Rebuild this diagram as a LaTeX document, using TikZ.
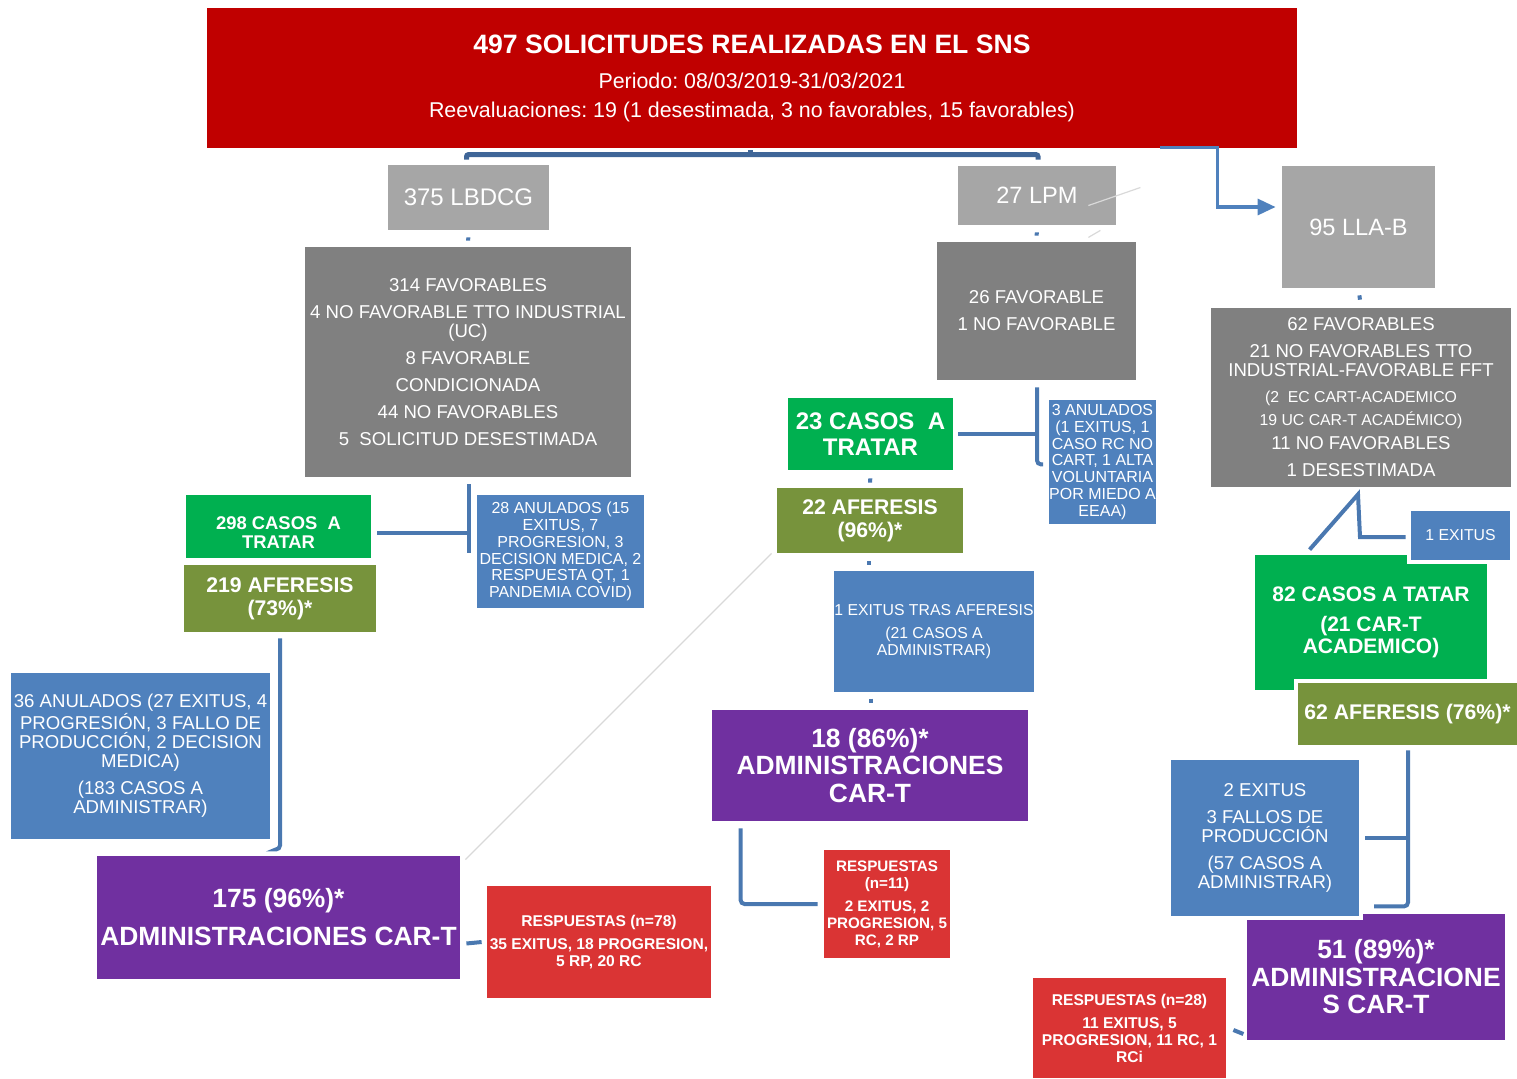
\documentclass[tikz,border=0pt]{standalone}
\usepackage{fontspec}
\setmainfont{Liberation Sans}
\usetikzlibrary{arrows.meta,calc}
\definecolor{tred}{HTML}{C00000}
\definecolor{lgray}{HTML}{A6A6A6}
\definecolor{dgray}{HTML}{808080}
\definecolor{tgreen}{HTML}{00B050}
\definecolor{tolive}{HTML}{77933C}
\definecolor{tblue}{HTML}{4F81BD}
\definecolor{purp}{HTML}{7030A0}
\definecolor{rbox}{HTML}{DA3434}
\definecolor{cblue}{HTML}{4A78B0}
\definecolor{cdark}{HTML}{3F6698}
\newcommand\fsz[2]{\fontsize{#1}{#2}\selectfont}
\newcommand\mybox[7]{\node[box,#6,minimum width={(#4-#2)*0.5pt},minimum height={(#5-#3)*0.5pt}] (#1) at ({(#2+#4)/2},{(#3+#5)/2}) {#7};}
\frenchspacing
\begin{document}
\begin{tikzpicture}[x=0.5pt,y=-0.5pt,
 box/.style={rectangle,inner sep=0pt,align=center,text=white},
 halo/.style={preaction={draw=white,line width=4pt}},
 conn/.style={draw=cblue,line width=2pt},
 connd/.style={draw=cdark,line width=2.5pt,rounded corners=1pt},
 conna/.style={draw=tblue,line width=1.6pt},
 faint/.style={draw=gray!30,line width=0.6pt},
 big/.style={font=\fsz{9.3}{9.5}},
 small/.style={font=\fsz{8}{8.35}},
]
\useasboundingbox (0,0) rectangle (1517,1078);
% header
\mybox{title}{207}{8}{1297}{148}{fill=tred,font=\fsz{10.7}{14.5}}{{\fsz{13.3}{14.5}\bfseries 497 SOLICITUDES REALIZADAS EN EL SNS}\\[3pt]Periodo: 08/03/2019-31/03/2021\\Reevaluaciones: 19 (1 desestimada, 3 no favorables, 15 favorables)}
% level 1
\mybox{l375}{388}{165}{549}{230}{fill=lgray,font=\fsz{12}{14}}{375 LBDCG}
\mybox{lpm}{958}{166}{1116}{225}{fill=lgray,font=\fsz{11.8}{14}}{27 LPM}
\mybox{lla}{1282}{166}{1435}{288}{fill=lgray,font=\fsz{11.8}{14}}{95 LLA-B}
% level 2
\mybox{g1}{305}{247}{631}{477}{fill=dgray,big}{314 FAVORABLES\\[4pt]4 NO FAVORABLE TTO INDUSTRIAL\\(UC)\\[4pt]8 FAVORABLE\\[4pt]CONDICIONADA\\[4pt]44 NO FAVORABLES\\[4pt]5~~SOLICITUD DESESTIMADA}
\mybox{g2}{937}{242}{1136}{380}{fill=dgray,big}{26 FAVORABLE\\[4pt]1 NO FAVORABLE}
\mybox{g3}{1211}{308}{1511}{487}{fill=dgray,big}{62 FAVORABLES\\[4pt]21 NO FAVORABLES TTO\\INDUSTRIAL-FAVORABLE~FFT\\[3.5pt]{\fsz{7.9}{9.5}(2~~EC CART-ACADEMICO}\\[2pt]{\fsz{7.9}{9.5}19 UC CAR-T ACADÉMICO)}\\[2.5pt]11 NO FAVORABLES\\[4pt]1 DESESTIMADA}
% LBDCG branch
\mybox{c298}{186}{495}{371}{558}{fill=tgreen,font=\fsz{9.2}{9.5}\bfseries}{\rule{0pt}{12.5pt}298 CASOS~~A\\TRATAR}
\mybox{af219}{184}{565}{376}{632}{fill=tolive,font=\fsz{10.6}{11.5}\bfseries}{219 AFERESIS\\(73\%)*}
\mybox{a28}{477}{495}{644}{608}{fill=tblue,small}{28 ANULADOS (15\\EXITUS, 7\\PROGRESION, 3\\DECISION MEDICA, 2\\RESPUESTA QT, 1\\PANDEMIA COVID)}
\mybox{a36}{11}{673}{270}{839}{fill=tblue,big}{36 ANULADOS (27 EXITUS, 4\\PROGRESIÓN, 3 FALLO DE\\PRODUCCIÓN, 2 DECISION\\MEDICA)\\[4pt](183 CASOS A\\ADMINISTRAR)}
\mybox{p175}{97}{856}{460}{979}{fill=purp,font=\fsz{13.2}{14}\bfseries}{175 (96\%)*\\[5pt]ADMINISTRACIONES CAR-T}
\mybox{r78}{487}{886}{711}{998}{fill=rbox,font=\fsz{7.8}{8.5}\bfseries}{RESPUESTAS (n=78)\\[3pt]35 EXITUS, 18 PROGRESION,\\5 RP, 20 RC}
% LPM branch
\mybox{c23}{788}{398}{953}{470}{fill=tgreen,font=\fsz{12}{13}\bfseries}{23 CASOS~~A\\TRATAR}
\mybox{af22}{777}{488}{963}{553}{fill=tolive,font=\fsz{10.6}{11.5}\bfseries}{22 AFERESIS\\(96\%)*}
\mybox{a3}{1050}{400}{1155}{524}{fill=tblue,small}{3 ANULADOS\\(1 EXITUS, 1\\CASO RC NO\\CART, 1 ALTA\\VOLUNTARIA\\POR MIEDO A\\EEAA)}
\mybox{exa}{834}{571}{1034}{692}{fill=tblue,font=\fsz{7.9}{8.5}}{1 EXITUS TRAS AFERESIS\\[3pt](21 CASOS A\\ADMINISTRAR)}
\mybox{p18}{712}{710}{1028}{821}{fill=purp,font=\fsz{13.2}{13.75}\bfseries}{18 (86\%)*\\ADMINISTRACIONES\\CAR-T}
\mybox{r11}{824}{850}{950}{958}{fill=rbox,font=\fsz{7.6}{8.5}\bfseries}{RESPUESTAS\\(n=11)\\[3pt]2 EXITUS, 2\\PROGRESION, 5\\RC, 2 RP}
% LLA-B branch
\mybox{c82}{1255}{555}{1487}{690}{fill=tgreen,font=\fsz{10.5}{11}\bfseries}{82 CASOS A TATAR\\[4pt](21 CAR-T\\ACADEMICO)}
\mybox{ex1}{1411}{511}{1510}{560}{fill=tblue,halo,font=\fsz{7.9}{9}}{1 EXITUS}
\mybox{af62}{1298}{683}{1517}{745}{fill=tolive,halo,font=\fsz{10.6}{11.5}\bfseries}{62 AFERESIS (76\%)*}
\mybox{p51}{1247}{914}{1505}{1040}{fill=purp,font=\fsz{13.2}{13.75}\bfseries}{51 (89\%)*\\ADMINISTRACIONE\\S CAR-T}
\mybox{ex2}{1171}{760}{1359}{916}{fill=tblue,halo,big}{2 EXITUS\\[4pt]3 FALLOS DE\\PRODUCCIÓN\\[4pt](57 CASOS A\\ADMINISTRAR)}
\mybox{r28}{1033}{978}{1226}{1078}{fill=rbox,font=\fsz{7.8}{8.5}\bfseries}{RESPUESTAS (n=28)\\[3pt]11 EXITUS, 5\\PROGRESION, 11 RC, 1\\RCi}
% faint artefact lines
\draw[faint] ($(af22.south west)+(-5,0)$) -- ($(p175.north east)+(5,4)$);
\draw[faint] ($(lpm.east)+(-28,10)$) -- ($(lpm.east)+(24,-8)$);
\draw[faint] ($(lpm.south east)+(-28,12)$) -- ($(lpm.south east)+(-16,5)$);
% title bracket and arrow
\draw[connd] ($(l375.north)+(-2,-5)$) -- ($(l375.north)+(-2,-10)$) -- ($(lpm.north)+(1,-11)$) -- ($(lpm.north)+(1,-6)$);
\draw[connd] ($(title.south)+(-2,2)$) -- ($(title.south)+(-2,7)$);
\draw[conna,-{Triangle[length=9pt,width=8pt]}] ($(title.south east)+(-137,-1)$) -- ++(57,0) |- ($(lla.west)+(-6,-20)$);
% stubs
\draw[conn,shorten <=3.5pt,shorten >=3pt] (l375.south) -- (g1.north);
\draw[conn,shorten <=3.5pt,shorten >=3pt] (lpm.south) -- (g2.north);
\draw[conn,shorten <=3.5pt,shorten >=4pt] (lla.south) -- (g3.north);
\draw[conn,shorten <=4pt,shorten >=2.5pt] (c23.south) -- (af22.north);
\draw[conn] ($(af22.south)+(-1,8)$) -- ($(af22.south)+(-1,12)$);
\draw[conn] ($(p18.north)+(1,-11)$) -- ($(p18.north)+(1,-7)$);
% LBDCG connectors
\draw[conn] ($(g1.south)+(1,7)$) -- ($(g1.south)+(1,76)$);
\draw[conn] ($(c298.east)+(6,6)$) -- ($(g1.south |- c298.east)+(1,6)$);
\draw[conn,rounded corners=2pt] ($(af219.south)+(0,6)$) -- ($(af219.south)+(0,217)$) -- ++(-3,0);
\draw[conn] ($(p175.east)+(6,26)$) -- ($(r78.west)+(-5,0)$);
% LPM connectors
\draw[conn,rounded corners=2pt] ($(g2.south)+(0.5,7)$) -- ($(g2.south)+(0.5,84)$) -- ++(6,0);
\draw[conn] ($(c23.east)+(5,0)$) -- ($(g2.south |- c23.east)+(0.5,0)$);
\draw[conn,rounded corners=2pt] ($(p18.south west)+(29,7)$) |- ($(r11.west)+(-6,0)$);
% LLA-B connectors
\draw[conn] ($(c82.north west)+(55,-5)$) -- ($(g3.south)+(-3,7)$) -- ($(g3.south |- ex1.west)+(-1,1.5)$) -- ($(ex1.west)+(-5,1.5)$);
\draw[conn,rounded corners=2pt] ($(af62.south)+(0.5,5)$) -- ($(af62.south)+(0.5,161)$) -- ++(-34,0);
\draw[conn] ($(ex2.east)+(6,0)$) -- ($(af62.south |- ex2.east)+(0.5,0)$);
\draw[conn] ($(r28.east)+(7,2)$) -- ($(r28.east)+(17,6)$);
\end{tikzpicture}
\end{document}
